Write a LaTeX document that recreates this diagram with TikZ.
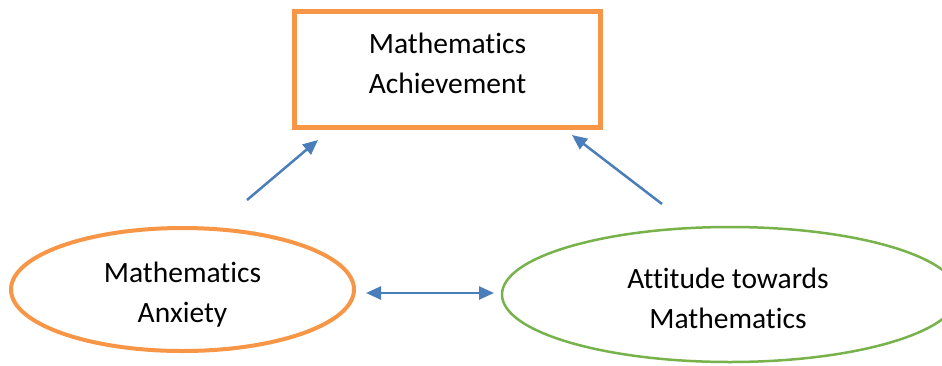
\documentclass[tikz,border=0pt]{standalone}
\usepackage{fontspec}
\setmainfont[Ligatures={NoCommon}]{Carlito}
\usetikzlibrary{shapes.geometric,arrows.meta}
\definecolor{boxorange}{HTML}{F79646}
\definecolor{ovalgreen}{HTML}{77B24A}
\definecolor{linkblue}{HTML}{4A7EBB}
\begin{document}
\begin{tikzpicture}[x=1pt,y=-1pt,
  every node/.style={inner sep=0pt, outer sep=0pt},
  caption/.style={font=\fontsize{29.5}{40}\selectfont, align=center, text=black},
  outcome/.style={draw=boxorange, line width=5pt, minimum width=306pt, minimum height=116pt},
  anxietyoval/.style={ellipse, draw=boxorange, line width=4pt, minimum width=343pt, minimum height=123pt},
  attitudeoval/.style={ellipse, draw=ovalgreen, line width=2.5pt, minimum width=456pt, minimum height=135pt},
  link/.style={draw=linkblue, line width=2.5pt, -{Triangle[length=15pt,width=13pt]}},
  twoway/.style={draw=linkblue, line width=2.5pt, {Triangle[length=15pt,width=13pt]}-{Triangle[length=15pt,width=13pt]}}
]
\useasboundingbox (0,0) rectangle (942,365);
\clip (0,0) rectangle (942,365);
\fill[white] (0,0) rectangle (942,365);

% the three constructs
\node[outcome] (ach) at (447.5,69.5) {};
\node[anxietyoval] (anx) at (182.5,289.5) {};
\node[attitudeoval] (att) at (730,294.5) {};

% their captions
\node[caption] (achtext) at (447.5,63) {Mathematics\\Achievement};
\node[caption] (anxtext) at (182.5,295) {Mathematics\\Anxiety};
\node[caption] (atttext) at (728,298) {Attitude towards\\Mathematics};

% arrow end points, set apart from the shapes
\coordinate (anxout) at (247,200);
\coordinate (achinL) at (318,140);
\coordinate (attout) at (662,204);
\coordinate (achinR) at (572,135);
\coordinate (anxside) at (366,293);
\coordinate (attside) at (494,293);

\draw[link] (anxout) -- (achinL);
\draw[link] (attout) -- (achinR);
\draw[twoway] (anxside) -- (attside);
\end{tikzpicture}
\end{document}
